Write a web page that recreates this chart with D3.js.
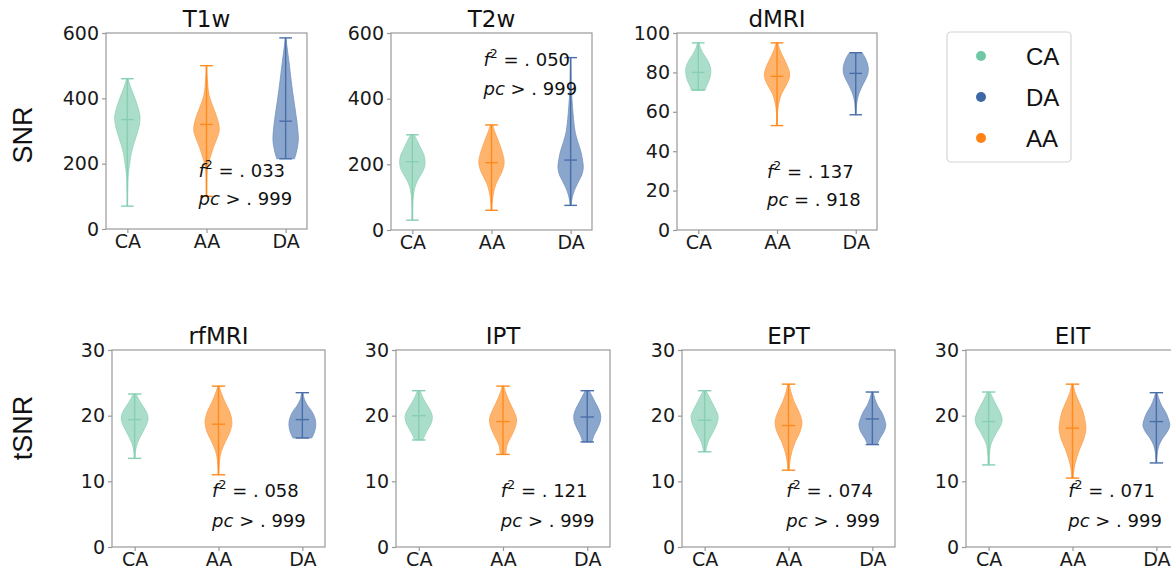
<!DOCTYPE html>
<html>
<head>
<meta charset="utf-8">
<script src="https://cdn.jsdelivr.net/npm/d3@7"></script>
<style>
  body { margin: 0; background: #fff; }
  svg { display: block; }
</style>
</head>
<body>
<svg id="chart" width="1171" height="570"></svg>
<script>
// ---- data -------------------------------------------------------------
const groups = ["CA", "AA", "DA"];
const legendOrder = ["CA", "DA", "AA"];
const rowLabels = ["SNR", "tSNR"];

const ticksStruct = [0, 200, 400, 600];
const ticksDiff = [0, 20, 40, 60, 80, 100];
const ticksTemporal = [0, 10, 20, 30];

// min / median / max per group (CA, AA, DA)
const minsByPanel = {
  T1w: [70, 100, 215], T2w: [30, 60, 75], dMRI: [71, 53, 58.5],
  rfMRI: [13.5, 11, 16.6], IPT: [16.3, 14.1, 16], EPT: [14.5, 11.7, 15.6], EIT: [12.5, 10.5, 12.8]
};
const mediansByPanel = {
  T1w: [335, 320, 330], T2w: [208, 205, 213], dMRI: [80, 78, 79.5],
  rfMRI: [19.4, 18.7, 19.4], IPT: [20, 19.1, 19.8], EPT: [19.3, 18.5, 19.5], EIT: [19.1, 18.1, 19.1]
};
const maxsByPanel = {
  T1w: [460, 500, 585], T2w: [290, 320, 525], dMRI: [95, 95, 90],
  rfMRI: [23.3, 24.5, 23.5], IPT: [23.8, 24.5, 23.8], EPT: [23.8, 24.8, 23.6], EIT: [23.6, 24.8, 23.5]
};

// kernel density profiles: [value, relative density]
const densT1w = {
  CA: [[460,.05],[430,.3],[400,.6],[370,.85],[345,1],[320,.95],[290,.75],[260,.5],[230,.3],[200,.18],[170,.08],[140,.04],[100,.02],[70,.02]],
  AA: [[500,.03],[470,.05],[440,.1],[410,.2],[380,.45],[350,.75],[320,.97],[300,1],[280,.85],[250,.55],[220,.3],[200,.15],[180,.06],[150,.03],[100,.02]],
  DA: [[585,.03],[560,.1],[530,.2],[500,.3],[460,.42],[420,.55],[380,.7],[340,.85],[300,.97],[270,1],[245,.9],[225,.78],[215,.7]]
};
const densT2w = {
  CA: [[290,.15],[270,.4],[250,.65],[230,.9],[210,1],[190,.95],[170,.7],[150,.4],[130,.2],[110,.1],[90,.05],[60,.03],[30,.03]],
  AA: [[320,.1],[300,.25],[280,.45],[260,.65],[230,.9],[205,1],[180,.85],[160,.6],[140,.35],[120,.2],[100,.1],[80,.05],[60,.03]],
  DA: [[525,.02],[450,.05],[400,.1],[350,.2],[300,.35],[270,.55],[240,.8],[210,.95],[190,1],[170,.9],[150,.65],[130,.4],[110,.2],[90,.08],[75,.04]]
};
const densDMRI = {
  CA: [[95,.05],[92,.2],[89,.45],[86,.75],[83,.95],[81,1],[78,.95],[75,.8],[73,.65],[71,.55]],
  AA: [[95,.05],[92,.2],[89,.4],[85,.7],[81,.95],[78,1],[75,.85],[72,.6],[69,.35],[66,.2],[63,.1],[60,.05],[56,.03],[53,.03]],
  DA: [[90,.5],[88,.7],[85,.9],[82,1],[79,.95],[76,.75],[73,.5],[70,.3],[67,.15],[64,.07],[61,.04],[58.5,.03]]
};
const densRfMRI = {
  CA: [[23.3,.1],[22.5,.3],[21.5,.6],[20.5,.9],[19.5,1],[18.5,.85],[17.5,.6],[16.5,.35],[15.5,.15],[14.5,.06],[13.5,.04]],
  AA: [[24.5,.05],[23.5,.2],[22,.5],[20.5,.85],[19,1],[17.5,.85],[16,.5],[14.5,.2],[13,.07],[12,.04],[11,.03]],
  DA: [[23.5,.05],[22.5,.15],[21.5,.4],[20.5,.75],[19.5,.95],[18.5,1],[17.5,.9],[16.6,.7]]
};
const densIPT = {
  CA: [[23.8,.1],[23,.25],[22,.5],[21,.8],[20,1],[19,.95],[18,.7],[17,.45],[16.3,.3]],
  AA: [[24.5,.05],[23.5,.2],[22,.5],[20.5,.85],[19.5,1],[18.5,.95],[17,.65],[15.5,.3],[14.1,.2]],
  DA: [[23.8,.15],[23,.35],[22,.6],[21,.85],[20,1],[19,.95],[18,.75],[17,.5],[16,.35]]
};
const densEPT = {
  CA: [[23.8,.1],[23,.3],[22,.55],[21,.8],[20,1],[19,.95],[18,.75],[17,.5],[16,.25],[15,.12],[14.5,.1]],
  AA: [[24.8,.05],[23.5,.2],[22,.45],[20.5,.8],[19,1],[17.5,.85],[16,.5],[14.5,.25],[13,.1],[11.7,.05]],
  DA: [[23.6,.05],[22.5,.2],[21.5,.4],[20.5,.7],[19.5,.9],[18.5,1],[17.5,.85],[16.5,.55],[15.6,.35]]
};
const densEIT = {
  CA: [[23.6,.1],[22.5,.35],[21.5,.6],[20.5,.85],[19.5,1],[18.5,.9],[17.5,.6],[16.5,.35],[15.5,.15],[14,.06],[12.5,.05]],
  AA: [[24.8,.05],[23.5,.2],[22,.5],[20.5,.8],[19,.95],[18,1],[16.5,.85],[15,.55],[13.5,.3],[12,.12],[10.5,.05]],
  DA: [[23.5,.05],[22.5,.2],[21.5,.4],[20.5,.7],[19.5,.9],[18.5,1],[17.5,.8],[16.5,.45],[15.5,.2],[14.5,.08],[13.5,.04],[12.8,.03]]
};

// effect size and corrected p per panel
const effectSizes = { T1w: ".033", T2w: ".050", dMRI: ".137", rfMRI: ".058", IPT: ".121", EPT: ".074", EIT: ".071" };
const pcRelations = { T1w: ">", T2w: ">", dMRI: "=", rfMRI: ">", IPT: ">", EPT: ">", EIT: ">" };
const pcValues = { T1w: ".999", T2w: ".999", dMRI: ".918", rfMRI: ".999", IPT: ".999", EPT: ".999", EIT: ".999" };

// ---- styling ----------------------------------------------------------
const palette = {
  CA: { fill: "#abddcb", edge: "#8fd3b6", line: "#86d0b1", dot: "#70c7a6" },
  AA: { fill: "#ffb46e", edge: "#ffa04a", line: "#ff8a1c", dot: "#ff8214" },
  DA: { fill: "#8ba6cc", edge: "#7493c0", line: "#4a6ea8", dot: "#3c68a6" }
};
const tickFont = "DejaVu Sans, sans-serif";

// panel boxes (px) and annotation baselines as fractions of the box height
const panels = [
  { key: "T1w",   dens: densT1w,   ticks: ticksStruct,   x: 106, y: 33,  w: 201, h: 196, nx: 0.46, ny: [0.735, 0.878] },
  { key: "T2w",   dens: densT2w,   ticks: ticksStruct,   x: 391, y: 33,  w: 201, h: 197, nx: 0.46, ny: [0.168, 0.315] },
  { key: "dMRI",  dens: densDMRI,  ticks: ticksDiff,     x: 677, y: 33,  w: 200, h: 197, nx: 0.45, ny: [0.735, 0.878] },
  { key: "rfMRI", dens: densRfMRI, ticks: ticksTemporal, x: 112, y: 350, w: 213, h: 197, nx: 0.47, ny: [0.746, 0.898] },
  { key: "IPT",   dens: densIPT,   ticks: ticksTemporal, x: 396, y: 350, w: 214, h: 197, nx: 0.49, ny: [0.746, 0.898] },
  { key: "EPT",   dens: densEPT,   ticks: ticksTemporal, x: 682, y: 350, w: 213, h: 197, nx: 0.49, ny: [0.746, 0.898] },
  { key: "EIT",   dens: densEIT,   ticks: ticksTemporal, x: 966, y: 350, w: 213, h: 197, nx: 0.48, ny: [0.746, 0.898] }
];

const svg = d3.select("#chart");
svg.append("rect").attr("width", 1171).attr("height", 570).attr("fill", "#fff");

panels.forEach(p => {
  const g = svg.append("g").attr("transform", `translate(${p.x},${p.y})`);
  const x = d3.scalePoint().domain(groups).range([0, p.w]).padding(0.27);
  const y = d3.scaleLinear().domain(d3.extent(p.ticks)).range([p.h, 0]);
  const half = x.step() * 0.16;   // half of the violin's widest extent
  const cap = x.step() * 0.08;    // half-length of extrema / median bars

  groups.forEach((grp, i) => {
    const cx = x(grp);
    const col = palette[grp];
    const area = d3.area()
      .curve(d3.curveCatmullRom.alpha(0.5))
      .y(d => y(d[0]))
      .x0(d => cx - d[1] * half)
      .x1(d => cx + d[1] * half);
    g.append("path")
      .attr("d", area(p.dens[grp]))
      .attr("fill", col.fill)
      .attr("stroke", col.edge)
      .attr("stroke-width", 0.8);

    const lo = minsByPanel[p.key][i], hi = maxsByPanel[p.key][i], med = mediansByPanel[p.key][i];
    const ln = g.append("g").attr("stroke", col.line).attr("stroke-width", 1.4);
    ln.append("line").attr("x1", cx).attr("x2", cx).attr("y1", y(lo)).attr("y2", y(hi));
    [lo, hi, med].forEach(v => {
      ln.append("line").attr("x1", cx - cap).attr("x2", cx + cap).attr("y1", y(v)).attr("y2", y(v));
    });
  });

  // frame
  g.append("rect").attr("width", p.w).attr("height", p.h)
    .attr("fill", "none").attr("stroke", "#999").attr("stroke-width", 1.2);

  // axes
  const ya = g.append("g").call(d3.axisLeft(y).tickValues(p.ticks).tickSize(4).tickPadding(3).tickFormat(d3.format("d")));
  const xa = g.append("g").attr("transform", `translate(0,${p.h})`).call(d3.axisBottom(x).tickSize(4).tickPadding(2));
  [ya, xa].forEach(a => {
    a.select(".domain").remove();
    a.selectAll(".tick line").attr("stroke", "#999").attr("stroke-width", 1.2);
    a.selectAll(".tick text").attr("fill", "#1a1a1a").style("font-family", tickFont).style("font-size", "19px");
  });

  // title
  g.append("text").attr("x", p.w / 2).attr("y", -6).attr("text-anchor", "middle")
    .style("font-family", tickFont).style("font-size", "23px").attr("fill", "#111").text(p.key);

  // statistics annotation
  const tx = p.w * p.nx;
  const t1 = g.append("text").attr("x", tx).attr("y", p.h * p.ny[0])
    .style("font-family", tickFont).style("font-size", "18px").attr("fill", "#111");
  t1.append("tspan").style("font-style", "italic").text("f");
  t1.append("tspan").attr("dy", -8).style("font-size", "12.5px").text("2");
  t1.append("tspan").attr("dy", 8).text(` = . ${effectSizes[p.key].slice(1)}`);

  const t2 = g.append("text").attr("x", tx).attr("y", p.h * p.ny[1])
    .style("font-family", tickFont).style("font-size", "18px").attr("fill", "#111");
  t2.append("tspan").style("font-style", "italic").text("pc");
  t2.append("tspan").text(` ${pcRelations[p.key]} . ${pcValues[p.key].slice(1)}`);
});

// row labels
const rowCenters = [135, 428];
rowLabels.forEach((lab, i) => {
  svg.append("text")
    .attr("transform", `translate(32,${rowCenters[i]}) rotate(-90)`)
    .attr("text-anchor", "middle")
    .style("font-family", "Liberation Sans, Arial, sans-serif")
    .style("font-size", "27px").attr("fill", "#111").text(lab);
});

// legend
const leg = svg.append("g").attr("transform", "translate(947,32)");
leg.append("rect").attr("width", 124).attr("height", 130).attr("rx", 4)
  .attr("fill", "#fff").attr("stroke", "#d6d6d6").attr("stroke-width", 1.2);
const legY = d3.scalePoint().domain(legendOrder).range([24, 106]);
legendOrder.forEach(k => {
  leg.append("circle").attr("cx", 34).attr("cy", legY(k)).attr("r", 5).attr("fill", palette[k].dot);
  leg.append("text").attr("x", 79).attr("y", legY(k)).attr("dy", "0.36em")
    .style("font-family", "Liberation Sans, Arial, sans-serif").style("font-size", "24px")
    .attr("fill", "#111").text(k);
});
</script>
</body>
</html>
